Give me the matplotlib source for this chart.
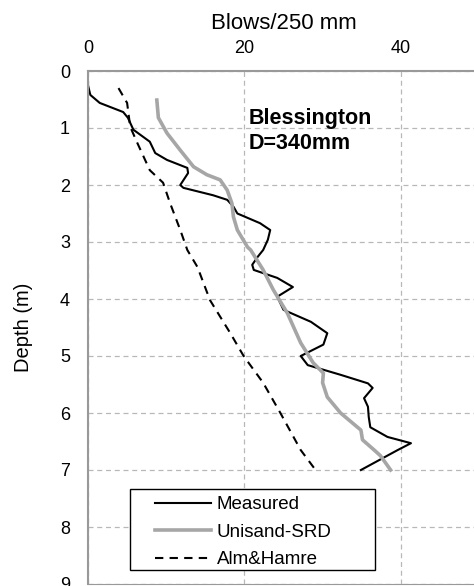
import matplotlib
matplotlib.use("Agg")
import matplotlib.pyplot as plt
from matplotlib.patches import Rectangle

plt.rcParams['font.family'] = ['Liberation Sans', 'DejaVu Sans']

# Measured (blows, depth)
meas_x = [0.0, 0.0, 0.3, 1.5, 4.5, 5.1, 5.8, 7.9, 8.6, 10.1, 12.7, 12.8, 11.8, 12.2, 16.0, 17.8,
          18.6, 19.1, 22.0, 23.3, 23.0, 22.4, 21.7, 21.0, 21.2, 24.2, 26.2, 24.2, 25.0, 28.5,
          30.6, 30.1, 27.2, 28.1, 32.3, 35.8, 36.4, 35.3, 35.8, 35.9, 36.1, 38.3, 41.3, 39.6, 34.9]
meas_d = [0.2, 0.25, 0.42, 0.56, 0.72, 0.82, 1.03, 1.24, 1.44, 1.56, 1.70, 1.79, 2.00, 2.05, 2.18, 2.26,
          2.38, 2.50, 2.67, 2.79, 2.96, 3.14, 3.26, 3.40, 3.49, 3.63, 3.79, 3.96, 4.19, 4.40,
          4.60, 4.80, 5.00, 5.16, 5.33, 5.48, 5.56, 5.74, 5.89, 6.07, 6.25, 6.42, 6.53, 6.65, 7.00]

# Unisand-SRD
srd_x = [8.8, 9.0, 10.1, 11.8, 13.5, 15.2, 16.9, 17.8, 18.4, 18.6, 19.1, 20.4, 20.8, 22.4, 23.7,
         25.5, 27.2, 28.8, 30.1, 30.0, 30.6, 32.3, 34.9, 35.1, 36.6, 37.4, 38.7]
srd_d = [0.51, 0.82, 1.09, 1.39, 1.68, 1.82, 1.91, 2.09, 2.32, 2.56, 2.79, 3.09, 3.14, 3.49, 3.84,
         4.25, 4.77, 5.12, 5.30, 5.47, 5.72, 6.00, 6.30, 6.47, 6.65, 6.75, 7.00]

# Alm&Hamre
ah_x = [3.9, 5.0, 5.4, 6.3, 7.9, 9.6, 10.5, 11.8, 12.7, 14.0, 15.6, 18.2, 19.9, 22.4, 24.6, 27.2, 29.1]
ah_d = [0.30, 0.56, 0.98, 1.26, 1.74, 1.96, 2.32, 2.79, 3.14, 3.44, 4.02, 4.60, 5.00, 5.47, 6.00, 6.65, 7.00]

x_ticks = [0, 20, 40]
y_ticks = [0, 1, 2, 3, 4, 5, 6, 7, 8, 9]

fig = plt.figure(figsize=(4.74, 5.86), dpi=100)
ax = fig.add_axes([88/474, 2/586, 391/474, 513/586])

ax.plot(meas_x, meas_d, color='black', lw=1.5, label='Measured', solid_joinstyle='round')
ax.plot(srd_x, srd_d, color='#a6a6a6', lw=2.6, label='Unisand-SRD', solid_joinstyle='round')
ax.plot(ah_x, ah_d, color='black', lw=1.5, ls=(0, (4, 3)), label='Alm&Hamre')

ax.set_xlim(0, 50)
ax.set_ylim(9, 0)
ax.xaxis.tick_top()
ax.xaxis.set_label_position('top')
ax.set_xticks(x_ticks)
ax.set_yticks(y_ticks)
ax.tick_params(length=0, labelsize=13, pad=10)
ax.tick_params(axis='y', pad=13)
ax.set_xlabel('Blows/250 mm', fontsize=16, labelpad=8)
ax.set_ylabel('Depth (m)', fontsize=14.5, labelpad=19)

ax.grid(True, color='#b8b8b8', ls=(0, (4, 3)), lw=0.9)
for s in ['left', 'top']:
    ax.spines[s].set_color('#999999')
    ax.spines[s].set_linewidth(1.5)
for s in ['right', 'bottom']:
    ax.spines[s].set_color('#999999')

ax.text(20.5, 1.46, 'Blessington\nD=340mm', fontsize=15.5, fontweight='bold', ha='left', va='bottom',
        linespacing=1.25)

leg = ax.legend(loc='center left', bbox_to_anchor=(0.171, 0.101), fontsize=13.5, frameon=False,
                handlelength=3.0, handletextpad=0.3, borderpad=0, labelspacing=0.55,
                borderaxespad=0)
box = Rectangle((0.1074, 0.0273), 0.734 - 0.1074, 0.185 - 0.0273, transform=ax.transAxes,
                facecolor='white', edgecolor='black', lw=1.0, zorder=4)
ax.add_patch(box)
leg.set_zorder(5)

fig.savefig('out.png', dpi=100)
